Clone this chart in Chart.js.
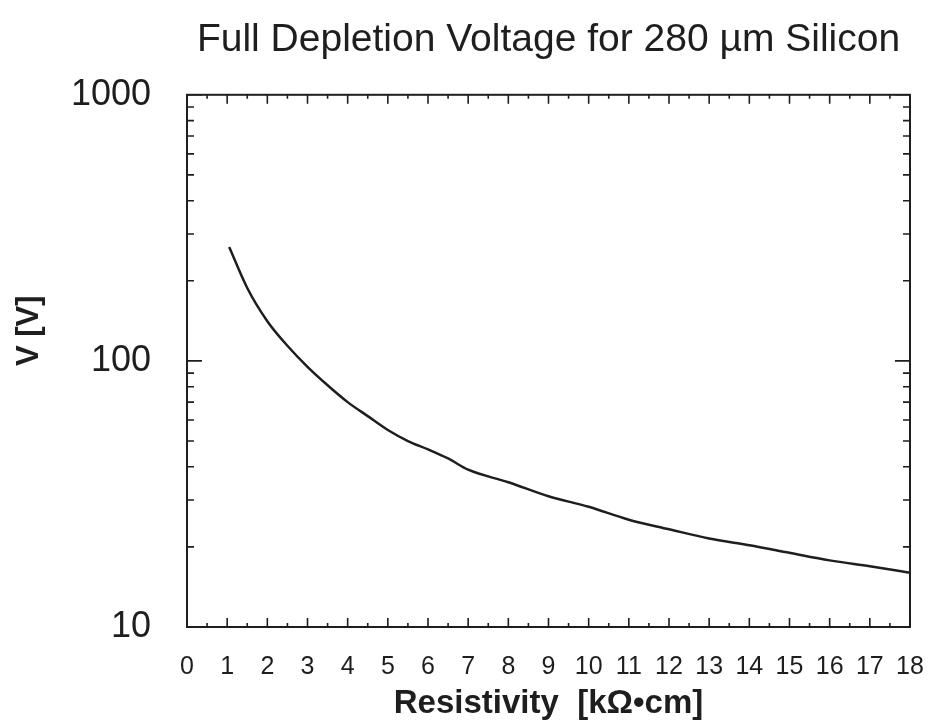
<!DOCTYPE html>
<html>
<head>
<meta charset="utf-8">
<title>Full Depletion Voltage</title>
<script src="https://cdn.jsdelivr.net/npm/chart.js@4/dist/chart.umd.min.js"></script>
<style>
  html, body { margin: 0; padding: 0; background: #fff; }
  #wrap { width: 928px; height: 727px; }
</style>
</head>
<body>
<div id="wrap"><canvas id="chart1"></canvas></div>
<script>
/*
    Full depletion voltage vs resistivity, 280 um silicon.
    Values.
*/
const resistivity = [1.05, 1.5, 2, 2.5, 3, 3.5, 4, 4.5, 5, 5.5, 6, 6.5, 7, 8, 9, 10, 11, 12, 13, 14, 15, 16, 17, 18];
const voltage = [268, 188, 141, 114, 95, 81, 70, 62, 55, 50, 46.5, 43, 39, 35, 31, 28.3, 25.3, 23.3, 21.5, 20.3, 19, 17.8, 16.9, 16];
const xTicks = [0, 1, 2, 3, 4, 5, 6, 7, 8, 9, 10, 11, 12, 13, 14, 15, 16, 17, 18];
const yTicks = [10, 100, 1000];

const FONT = "'Liberation Sans', Arial, Helvetica, sans-serif";
const INK = '#1e1e1e';

// boxed frame with inward tick marks, like the old plotting package
const frameTicks = {
    id: 'frameTicks',
    afterDraw(chart) {
        const ctx = chart.ctx;
        const a = chart.chartArea;
        const xs = chart.scales.x, ys = chart.scales.y;
        ctx.save();
        ctx.strokeStyle = INK;
        ctx.lineWidth = 2;
        ctx.strokeRect(a.left, a.top, a.right - a.left, a.bottom - a.top);
        ctx.lineWidth = 1.6;
        ctx.beginPath();
        // x: majors at integers, minors at halves
        for (let v = 0; v <= 18; v += 0.5) {
            const px = xs.getPixelForValue(v);
            const len = Number.isInteger(v) ? 9 : 4;
            ctx.moveTo(px, a.bottom); ctx.lineTo(px, a.bottom - len);
            ctx.moveTo(px, a.top); ctx.lineTo(px, a.top + len);
        }
        // y: decades long, 2..9 short
        for (let d = 10; d < 1000; d *= 10) {
            for (let m = 1; m <= 10; m++) {
                const py = ys.getPixelForValue(d * m);
                const len = (m === 1 || m === 10) ? 15 : 7;
                ctx.moveTo(a.left, py); ctx.lineTo(a.left + len, py);
                ctx.moveTo(a.right, py); ctx.lineTo(a.right - len, py);
            }
        }
        ctx.stroke();
        ctx.restore();
    }
};

const context = document.getElementById('chart1').getContext('2d');

const setup = {
    datasets: [{
        label: 'V',
        data: resistivity.map((r, i) => ({ x: r, y: voltage[i] })),
        borderColor: INK,
        borderWidth: 2.5,
        pointRadius: 0,
        cubicInterpolationMode: 'monotone',
        fill: false
    }]
};

const config = {
    type: 'line',
    data: setup,
    options: {
        responsive: true,
        maintainAspectRatio: false,
        animation: false,
        layout: { padding: { left: 0, right: 18, top: 0, bottom: 0 } },
        plugins: {
            legend: { display: false },
            tooltip: { enabled: false },
            title: {
                display: true,
                fullSize: false,
                text: 'Full Depletion Voltage for 280 \u00b5m Silicon',
                color: INK,
                font: { family: FONT, size: 39, weight: 'normal' },
                padding: { top: 17, bottom: 31 }
            }
        },
        scales: {
            x: {
                type: 'linear',
                min: 0,
                max: 18,
                afterBuildTicks: (s) => { s.ticks = xTicks.map(v => ({ value: v })); },
                afterFit: (s) => { s.height = 100; s.paddingLeft = 0; s.paddingRight = 0; },
                grid: { display: false },
                border: { display: false },
                ticks: {
                    autoSkip: false,
                    maxRotation: 0,
                    padding: 17,
                    color: INK,
                    font: { family: FONT, size: 25 }
                },
                title: {
                    display: true,
                    text: 'Resistivity  [k\u03a9\u2022cm]',
                    color: INK,
                    font: { family: FONT, size: 33, weight: 'bold' },
                    padding: { top: 0, bottom: 3 }
                }
            },
            y: {
                type: 'logarithmic',
                min: 10,
                max: 1000,
                afterBuildTicks: (s) => { s.ticks = yTicks.map(v => ({ value: v })); },
                afterFit: (s) => { s.width = 187; },
                grid: { display: false },
                border: { display: false },
                ticks: {
                    padding: 28,
                    color: INK,
                    font: { family: FONT, size: 36 },
                    callback: (v) => String(v)
                },
                title: {
                    display: true,
                    // leading blanks lift the label a little above the axis centre
                    text: '       V [V]',
                    color: INK,
                    font: { family: FONT, size: 31, weight: 'bold' },
                    padding: { top: 11, bottom: 0 }
                }
            }
        }
    },
    plugins: [frameTicks]
};

const chart1 = new Chart(context, config);
</script>
</body>
</html>
